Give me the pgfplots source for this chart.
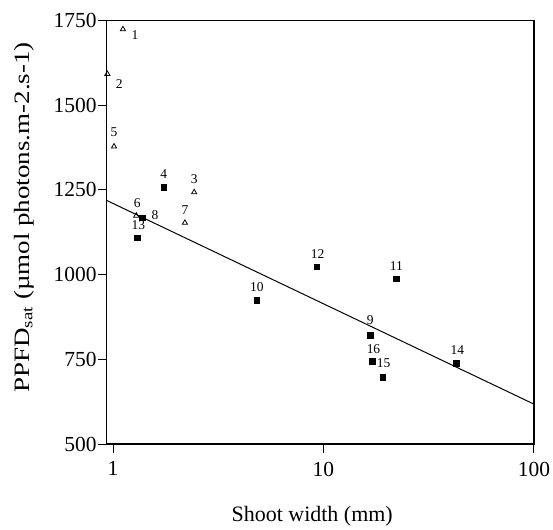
\documentclass[border=0pt]{standalone}
\usepackage{fontspec}
\setmainfont{Liberation Serif}
\usepackage{pgfplots}
\usepackage{pgfplotstable}
\pgfplotsset{compat=1.18}

% open triangles
\pgfplotstableread{
x     y    lab dx dy
1.115 1724 1   12 -6
0.94  1592 2   12 -10
1.011 1378 5   0  14
2.43  1243 3   0  13
2.196 1153 7   0  13
1.29  1174 6   1  13
}\tri
% filled squares
\pgfplotstableread{
x     y    lab dx dy
1.74  1258 4   0  13
1.373 1168 8   13 3
1.305 1109 13  1  13
4.82  924  10  0  13
9.28  1023 12  1  13
16.68 821  9   0  15
17.10 744  16  1  12
19.08 698  15  1  14
42.8  738  14  1  13
22.23 988  11  0  13
}\sq

\pgfplotsset{numlabels/.style={
    point meta=explicit symbolic,
    nodes near coords,
    visualization depends on={\thisrow{dx} \as \dx},
    visualization depends on={\thisrow{dy} \as \dy},
    every node near coord/.append style={anchor=center, xshift=\dx pt, yshift=\dy pt,
        font=\fontsize{13.5}{16}\selectfont, black},
}}

\begin{document}
\begin{tikzpicture}
\begin{axis}[
    scale only axis,
    width=428pt, height=424.5pt,
    xmode=log,
    xmin=0.934, xmax=100,
    ymin=500, ymax=1750,
    xtick={1,10,100}, xticklabels={1,10,100},
    xminorticks=false,
    ytick={500,750,1000,1250,1500,1750},
    /pgf/number format/1000 sep={},
    /pgf/number format/assume math mode=true,
    tick align=outside,
    xtick pos=bottom, ytick pos=left,
    major tick length=8.5pt,
    tick style={black, line width=1pt},
    axis line style={line width=1.2pt},
    tick label style={font=\fontsize{21.5}{24}\selectfont},
    yticklabel style={inner sep=1.5pt},
    xticklabel style={inner sep=3pt, yshift=-6pt},
    label style={font=\fontsize{22}{26}\selectfont},
    xlabel={Shoot width (mm)},
    ylabel={\scalebox{1.23}[1]{PPFD\textsubscript{sat} (µmol photons.m-2.s-1)}},
    xlabel style={at={(axis description cs:0.481,-0.1696)}, anchor=center},
    ylabel style={at={(axis description cs:-0.194,0.535)}, anchor=center},
    clip=false,
]
\addplot[only marks, mark=triangle, mark size=3pt, mark options={line width=0.8pt, fill=white}, black, numlabels]
    table[x=x, y=y, meta=lab] {\tri};
\addplot[only marks, mark=square*, mark size=2.8pt, black, numlabels]
    table[x=x, y=y, meta=lab] {\sq};
\addplot[black, line width=1pt, no marks]
    coordinates {(0.934,1218.8) (100,618)};
\path (rel axis cs:-0.25,-0.1908) rectangle (rel axis cs:1.042,1.0483);
\end{axis}
\end{tikzpicture}
\end{document}
